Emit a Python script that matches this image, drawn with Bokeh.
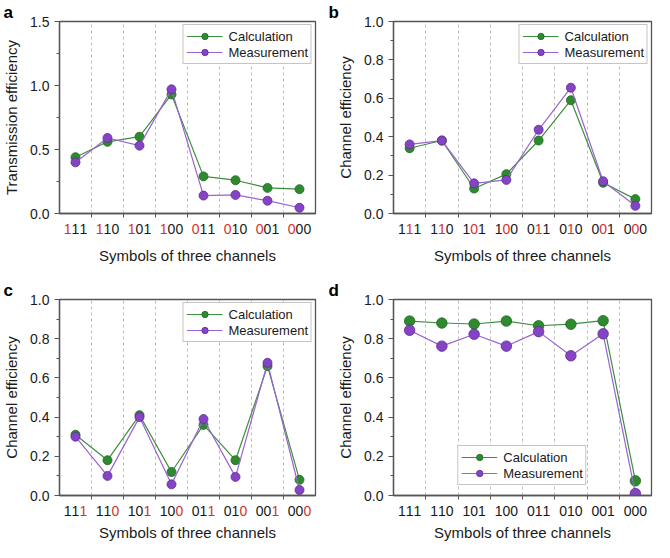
from bokeh.plotting import figure
from bokeh.layouts import column, row
from bokeh.models import (Range1d, FixedTicker, SingleIntervalTicker, Title,
                          NumeralTickFormatter, CustomLabelingPolicy)
from bokeh.core.properties import value
from bokeh.embed import file_html
from bokeh.resources import INLINE

# ---------------- data ----------------
symbols = ["111", "110", "101", "100", "011", "010", "001", "000"]

calc_a = [0.44, 0.56, 0.60, 0.93, 0.29, 0.26, 0.20, 0.19]
meas_a = [0.40, 0.59, 0.53, 0.97, 0.14, 0.145, 0.10, 0.045]

calc_b = [0.34, 0.38, 0.13, 0.205, 0.38, 0.59, 0.16, 0.075]
meas_b = [0.36, 0.38, 0.157, 0.175, 0.436, 0.655, 0.168, 0.04]

calc_c = [0.31, 0.18, 0.41, 0.12, 0.36, 0.18, 0.66, 0.08]
meas_c = [0.30, 0.10, 0.40, 0.057, 0.39, 0.095, 0.677, 0.028]

calc_d = [0.89, 0.88, 0.875, 0.89, 0.866, 0.874, 0.892, 0.075]
meas_d = [0.843, 0.762, 0.823, 0.762, 0.836, 0.713, 0.825, 0.01]

# ---------------- style ----------------
FONT = "Liberation Sans"
GREEN_LINE = "#3d8f3d"
GREEN_FILL = "#2f8a2f"
PURPLE_LINE = "#9a62d2"
PURPLE_FILL = "#8444c4"
RED = "#dc2e2e"
BLACK = "#1a1a1a"
AXIS = "#555555"
DIGIT_W = 7.8
W = 327
H = 271


def make_panel(letter, calc, meas, ylabel, ymax, ystep, hl, left_col, top_row,
               legend_loc, msize):
    n = len(symbols)
    xs = list(range(n))
    xr = Range1d(-0.5, n - 0.5)
    bl = 57 if left_col else 66
    br = 12 if left_col else 3
    main_h = 221 if top_row else 232

    p = figure(width=W, height=main_h, x_range=xr, y_range=(0, ymax),
               output_backend="svg", toolbar_location=None, title=letter,
               min_border_left=bl, min_border_right=br,
               min_border_top=0 if top_row else 28, min_border_bottom=8)
    p.title.text_font = FONT
    p.title.text_font_size = "17px"
    p.title.text_font_style = "bold"
    p.title.text_color = "black"
    p.title.align = "left"
    p.title.offset = -bl + 1
    p.title.standoff = 0
    p.background_fill_color = "white"
    p.border_fill_color = "white"
    p.outline_line_color = AXIS
    p.outline_line_width = 1.3

    # lines + markers
    p.line(xs, calc, line_color=GREEN_LINE, line_width=1.2, legend_label="Calculation")
    p.scatter(xs, calc, size=msize, fill_color=GREEN_FILL, line_color="#1f6a1f",
              line_width=0.8, legend_label="Calculation")
    p.line(xs, meas, line_color=PURPLE_LINE, line_width=1.2, legend_label="Measurement")
    p.scatter(xs, meas, size=msize, fill_color=PURPLE_FILL, line_color="#5e2a96",
              line_width=0.8, legend_label="Measurement")

    # x axis: ticks between categories, labels suppressed (drawn in strip below)
    bounds = [i + 0.5 for i in range(n - 1)]
    p.xaxis.ticker = FixedTicker(ticks=bounds, minor_ticks=[])
    p.xaxis.major_tick_out = 4
    p.xaxis.major_tick_in = 0
    p.xaxis.major_label_text_font_size = "0px"
    p.xaxis.major_label_standoff = 0
    p.xaxis.major_label_policy = CustomLabelingPolicy(
        code="for (const i of indices) { indices.unset(i) }\nreturn indices")
    p.xaxis.minor_tick_line_color = None

    # y axis
    p.yaxis.ticker = SingleIntervalTicker(interval=ystep, num_minor_ticks=2)
    p.yaxis.formatter = NumeralTickFormatter(format="0.0")
    p.yaxis.major_tick_out = 5
    p.yaxis.major_tick_in = 0
    p.yaxis.minor_tick_out = 3
    p.yaxis.minor_tick_in = 0
    p.yaxis.minor_tick_line_color = AXIS
    p.yaxis.axis_label = ylabel
    p.yaxis.axis_label_standoff = 7
    p.yaxis.major_label_text_font = FONT
    p.yaxis.major_label_text_font_size = "14px"
    p.yaxis.major_label_text_color = BLACK
    p.yaxis.axis_label_text_font = FONT
    p.yaxis.axis_label_text_font_size = "15px"
    p.yaxis.axis_label_text_font_style = "normal"
    p.yaxis.axis_label_text_color = BLACK

    for ax in (p.xaxis[0], p.yaxis[0]):
        ax.axis_line_color = AXIS
        ax.axis_line_width = 1.3
        ax.major_tick_line_color = AXIS

    p.xgrid.grid_line_color = "#bdbdbd"
    p.xgrid.grid_line_dash = "3 3"
    p.xgrid.grid_line_width = 1
    p.ygrid.grid_line_color = None

    # legend
    lg = p.legend[0]
    lg.location = legend_loc
    lg.margin = 3 if legend_loc == "top_right" else 10
    lg.padding = 3
    lg.spacing = 0
    lg.glyph_width = 36
    lg.glyph_height = 16
    lg.label_height = 16
    lg.label_standoff = 6
    lg.label_text_font = FONT
    lg.label_text_font_size = "13px"
    lg.label_text_color = BLACK
    lg.border_line_color = "#8c8c8c"
    lg.border_line_width = 1
    lg.background_fill_color = "white"
    lg.background_fill_alpha = 1

    # strip below: category labels with coloured digits + x axis title
    s = figure(width=W, height=H - main_h, x_range=xr, y_range=(0, 1),
               output_backend="svg", toolbar_location=None,
               x_axis_location=None, y_axis_location=None,
               min_border_left=bl, min_border_right=br, min_border_top=0,
               min_border_bottom=28 if top_row else 20)
    s.outline_line_color = None
    s.background_fill_color = "white"
    s.border_fill_color = "white"
    s.xgrid.grid_line_color = None
    s.ygrid.grid_line_color = None
    s.add_layout(Title(text="Symbols of three channels", align="center",
                       text_font=FONT, text_font_size="15px", text_font_style="normal",
                       text_color=BLACK, standoff=3), "below")

    lx, ly, lt, lc, lo = [], [], [], [], []
    for i, sym in enumerate(symbols):
        for j, ch in enumerate(sym):
            lx.append(i)
            ly.append(1)
            lt.append(ch)
            lc.append(RED if j == hl else BLACK)
            lo.append((j - 1) * DIGIT_W)
    s.text(x=lx, y=ly, text=lt, text_color=lc, x_offset=lo, y_offset=2,
           text_align="center", text_baseline="top", text_font=value(FONT),
           text_font_size="14px")
    return column(p, s)


pa = make_panel("a", calc_a, meas_a, "Transmission efficiency", 1.5, 0.5, 0, True, True,
                "top_right", 9)
pb = make_panel("b", calc_b, meas_b, "Channel efficiency", 1.0, 0.2, 1, False, True,
                "top_right", 9)
pc = make_panel("c", calc_c, meas_c, "Channel efficiency", 1.0, 0.2, 2, True, False,
                "top_right", 9)
pd = make_panel("d", calc_d, meas_d, "Channel efficiency", 1.0, 0.2, None, False, False,
                "bottom_center", 10.5)

layout = column(row(pa, pb), row(pc, pd))

open("out.html", "w").write(file_html(layout, INLINE))
